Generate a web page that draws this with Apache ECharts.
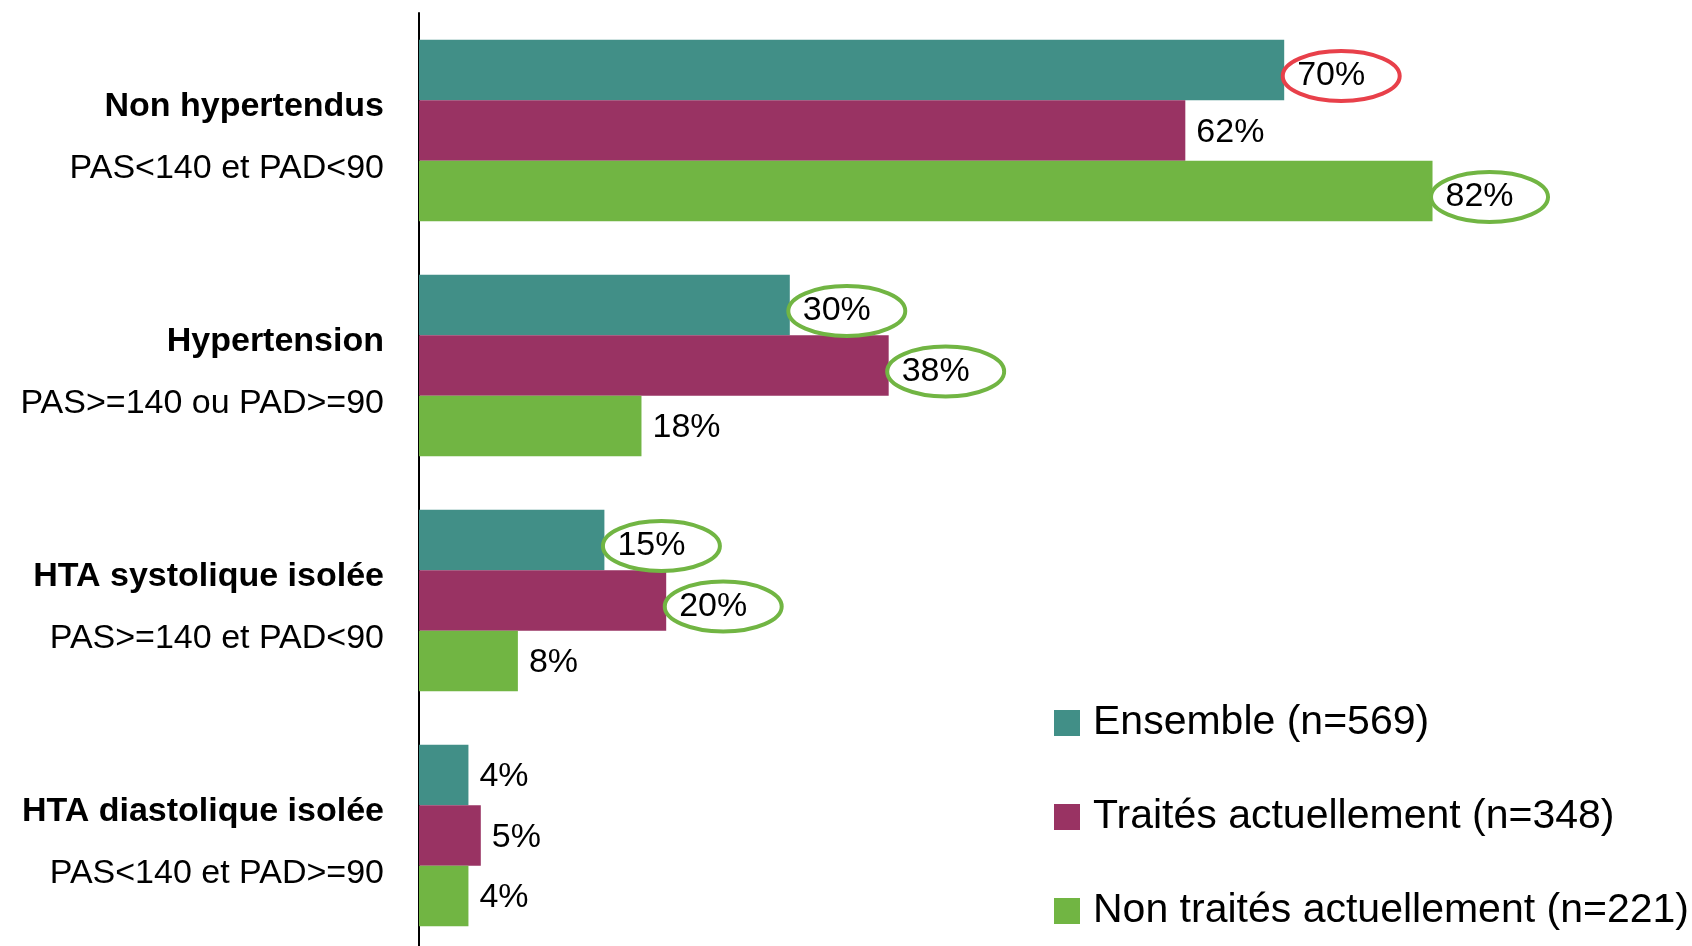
<meta charset="UTF-8">
<script src="https://cdn.jsdelivr.net/npm/echarts@6/dist/echarts.min.js"></script>
<style>
    html, body { margin: 0; padding: 0; background: #fff; overflow: hidden; }
</style>
<div id="main" style="width: 1692px; height: 960px;"></div>
<script>
    // categories (bold line + criteria line)
    var categories = ['Non hypertendus', 'Hypertension', 'HTA systolique isolée', 'HTA diastolique isolée'];
    var criteria = ['PAS<140 et PAD<90', 'PAS>=140 ou PAD>=90', 'PAS>=140 et PAD<90', 'PAS<140 et PAD>=90'];

    var seriesNames = ['Ensemble (n=569)', 'Traités actuellement (n=348)', 'Non traités actuellement (n=221)'];
    var ensemble = [70, 30, 15, 4];
    var traites = [62, 38, 20, 5];
    var nonTraites = [82, 18, 8, 4];

    // circled labels: [series index, category index, ring colour]
    var circled = [[0, 0, 'red'], [2, 0, 'green'], [0, 1, 'green'], [1, 1, 'green'], [0, 2, 'green'], [1, 2, 'green']];

    var colors = ['#418F87', '#993363', '#71B543'];
    var ringColors = { red: '#E8404A', green: '#71B543' };

    function ellipseImage(w, h, color) {
        var svg = '<svg xmlns="http://www.w3.org/2000/svg" width="' + w + '" height="' + h + '">' +
            '<ellipse cx="' + (w / 2) + '" cy="' + (h / 2) + '" rx="' + (w / 2 - 2.5) + '" ry="' + (h / 2 - 2.5) +
            '" fill="none" stroke="' + color + '" stroke-width="4"/></svg>';
        return 'data:image/svg+xml;charset=utf-8,' + encodeURIComponent(svg);
    }

    function buildData(values, sIdx) {
        return values.map(function (v, cIdx) {
            var ring = circled.filter(function (c) { return c[0] === sIdx && c[1] === cIdx; })[0];
            if (!ring) return v;
            var w = 122, h = 55;
            return {
                value: v,
                label: {
                    distance: -4,
                    offset: [0, 6],
                    padding: [0, 0, 10, 17],
                    width: w - 17,
                    height: h - 10,
                    lineHeight: h - 10,
                    backgroundColor: { image: ellipseImage(w, h, ringColors[ring[2]]) }
                }
            };
        });
    }

    var font = '"Liberation Sans", Arial, sans-serif';
    var chart = echarts.init(document.getElementById('main'));

    var seriesValues = [ensemble, traites, nonTraites];
    var series = seriesValues.map(function (vals, i) {
        return {
            name: seriesNames[i],
            type: 'bar',
            data: buildData(vals, i),
            itemStyle: { color: colors[i] },
            barGap: '0%',
            barCategoryGap: '22.8%',
            label: {
                show: true,
                position: 'right',
                distance: 11,
                offset: [0, 2],
                formatter: '{c}%',
                color: '#000',
                fontSize: 34,
                fontFamily: font
            }
        };
    });

    var option = {
        animation: false,
        backgroundColor: '#fff',
        grid: { left: 419, width: 1236, top: 13, height: 940 },
        legend: {
            data: seriesNames,
            orient: 'vertical',
            left: 1049,
            top: 694,
            icon: 'rect',
            itemWidth: 26,
            itemHeight: 26,
            itemGap: 46,
            textStyle: { fontSize: 41, color: '#000', fontFamily: font, lineHeight: 48, padding: [0, 0, 0, 8] }
        },
        xAxis: {
            type: 'value',
            min: 0,
            max: 100,
            show: false
        },
        yAxis: {
            type: 'category',
            inverse: true,
            data: categories,
            axisLine: { show: true, lineStyle: { color: '#000', width: 2 } },
            axisTick: { show: false },
            axisLabel: {
                margin: 35,
                padding: [14, 0, 0, 0],
                formatter: function (val, idx) {
                    return '{b|' + val + '}\n{n|' + criteria[idx] + '}';
                },
                rich: {
                    b: { fontSize: 34, fontWeight: 'bold', color: '#000', fontFamily: font, lineHeight: 62, align: 'right' },
                    n: { fontSize: 34, color: '#000', fontFamily: font, lineHeight: 62, align: 'right' }
                }
            }
        },
        series: series
    };
    chart.setOption(option);
</script>
